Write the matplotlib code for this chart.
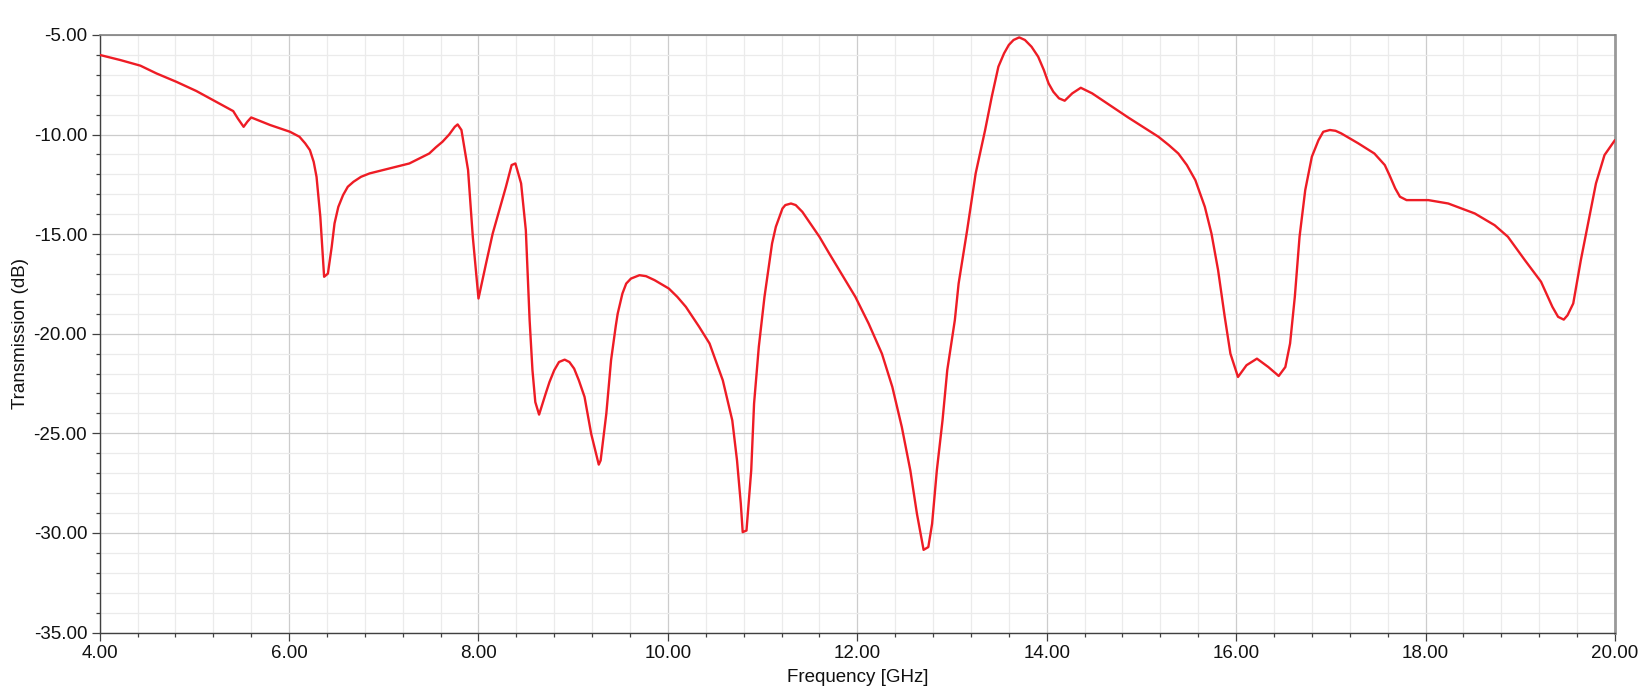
import numpy as np
import matplotlib
matplotlib.use('Agg')
import matplotlib.pyplot as plt
from matplotlib.ticker import MultipleLocator, FormatStrFormatter

plt.rcParams['font.family'] = ['Liberation Sans', 'DejaVu Sans']

# Curva (frequência em GHz, transmissão em dB)
freq = [4.00, 4.22, 4.43, 4.60, 4.81, 5.02, 5.21, 5.41, 5.46, 5.52,
        5.56, 5.60, 5.80, 6.01, 6.11, 6.17, 6.22, 6.26, 6.29, 6.33,
        6.37, 6.41, 6.45, 6.48, 6.52, 6.57, 6.62, 6.68, 6.76, 6.85,
        7.06, 7.27, 7.48, 7.55, 7.62, 7.69, 7.75, 7.78, 7.82, 7.89,
        7.94, 8.00, 8.08, 8.15, 8.29, 8.35, 8.39, 8.45, 8.50, 8.54,
        8.57, 8.60, 8.64, 8.71, 8.75, 8.80, 8.85, 8.91, 8.96, 9.01,
        9.06, 9.12, 9.19, 9.27, 9.29, 9.35, 9.40, 9.45, 9.47, 9.52,
        9.56, 9.61, 9.70, 9.77, 9.86, 10.01, 10.10, 10.19, 10.26, 10.33,
        10.44, 10.58, 10.68, 10.73, 10.77, 10.79, 10.83, 10.88, 10.91, 10.96,
        11.02, 11.07, 11.10, 11.14, 11.21, 11.24, 11.30, 11.35, 11.42, 11.60,
        11.70, 11.81, 11.98, 12.12, 12.26, 12.37, 12.47, 12.56, 12.63, 12.70,
        12.75, 12.79, 12.84, 12.90, 12.95, 13.03, 13.07, 13.16, 13.25, 13.35,
        13.42, 13.49, 13.55, 13.60, 13.65, 13.71, 13.77, 13.84, 13.91, 13.97,
        14.02, 14.07, 14.13, 14.19, 14.27, 14.36, 14.48, 14.65, 14.86, 15.18,
        15.29, 15.39, 15.48, 15.57, 15.62, 15.67, 15.74, 15.81, 15.88, 15.94,
        16.02, 16.11, 16.22, 16.34, 16.45, 16.52, 16.57, 16.62, 16.67, 16.73,
        16.80, 16.87, 16.92, 16.99, 17.05, 17.11, 17.29, 17.46, 17.57, 17.62,
        17.68, 17.73, 17.80, 18.03, 18.24, 18.52, 18.73, 18.87, 19.05, 19.22,
        19.34, 19.40, 19.46, 19.50, 19.56, 19.64, 19.71, 19.80, 19.89, 20.00]
trans = [-6.00, -6.26, -6.54, -6.93, -7.35, -7.81, -8.30, -8.82, -9.20, -9.61,
         -9.35, -9.14, -9.52, -9.86, -10.11, -10.44, -10.78, -11.37, -12.12, -14.13,
         -17.14, -16.98, -15.64, -14.46, -13.63, -13.04, -12.62, -12.37, -12.12, -11.95,
         -11.70, -11.45, -10.95, -10.64, -10.36, -10.00, -9.61, -9.49, -9.77, -11.78,
         -15.13, -18.23, -16.47, -14.97, -12.62, -11.53, -11.45, -12.45, -14.80, -19.32,
         -21.83, -23.43, -24.06, -23.00, -22.42, -21.83, -21.42, -21.30, -21.42, -21.75,
         -22.34, -23.17, -25.02, -26.57, -26.36, -24.01, -21.33, -19.60, -18.99, -17.98,
         -17.48, -17.23, -17.06, -17.11, -17.31, -17.73, -18.15, -18.65, -19.15, -19.65,
         -20.49, -22.34, -24.35, -26.36, -28.53, -29.96, -29.88, -26.86, -23.51, -20.66,
         -18.15, -16.47, -15.47, -14.63, -13.71, -13.54, -13.46, -13.54, -13.88, -15.13,
         -15.94, -16.81, -18.15, -19.49, -21.00, -22.67, -24.68, -26.86, -29.04, -30.85,
         -30.71, -29.54, -26.86, -24.35, -21.83, -19.32, -17.48, -14.80, -11.95, -9.77,
         -8.10, -6.59, -5.92, -5.50, -5.25, -5.12, -5.25, -5.59, -6.09, -6.76,
         -7.43, -7.85, -8.18, -8.30, -7.93, -7.65, -7.93, -8.47, -9.14, -10.11,
         -10.53, -10.95, -11.53, -12.29, -12.96, -13.63, -14.97, -16.81, -19.15, -21.00,
         -22.17, -21.58, -21.25, -21.67, -22.12, -21.67, -20.49, -18.15, -15.13, -12.79,
         -11.11, -10.28, -9.86, -9.77, -9.81, -9.94, -10.44, -10.95, -11.53, -12.04,
         -12.70, -13.12, -13.29, -13.29, -13.46, -13.96, -14.55, -15.13, -16.31, -17.39,
         -18.65, -19.15, -19.29, -19.07, -18.48, -16.31, -14.63, -12.45, -11.03, -10.28]

fig = plt.figure(figsize=(16.42, 6.93), dpi=100)
ax = fig.add_axes([0.0607, 0.0873, 0.9228, 0.8622])

ax.plot(freq, trans, color='#ee1c25', lw=1.7, solid_joinstyle='round',
        solid_capstyle='round', zorder=3)

ax.set_xlim(4, 20)
ax.set_ylim(-35, -5)
ax.xaxis.set_major_locator(MultipleLocator(2))
ax.xaxis.set_minor_locator(MultipleLocator(0.4))
ax.yaxis.set_major_locator(MultipleLocator(5))
ax.yaxis.set_minor_locator(MultipleLocator(1))
ax.xaxis.set_major_formatter(FormatStrFormatter('%.2f'))
ax.yaxis.set_major_formatter(FormatStrFormatter('%.2f'))

ax.grid(which='major', color='#cccccc', lw=0.9)
ax.grid(which='minor', color='#ebebeb', lw=0.9)
ax.set_axisbelow(True)

ax.tick_params(which='major', length=6, width=0.9, color='#404040',
               labelsize=13.5, pad=3, labelcolor='#111111')
ax.tick_params(which='minor', length=3, width=0.9, color='#404040')

for s in ['left', 'bottom']:
    ax.spines[s].set_color('#404040')
    ax.spines[s].set_linewidth(1.0)
ax.spines['top'].set_color('#808080')
ax.spines['top'].set_linewidth(1.2)
ax.spines['right'].set_color('#999999')
ax.spines['right'].set_linewidth(2.0)

ax.set_xlabel('Frequency [GHz]', fontsize=13.5, color='#111111', labelpad=5)
ax.set_ylabel('Transmission (dB)', fontsize=13.5, color='#111111', labelpad=3)

fig.savefig('out.png', dpi=100)
